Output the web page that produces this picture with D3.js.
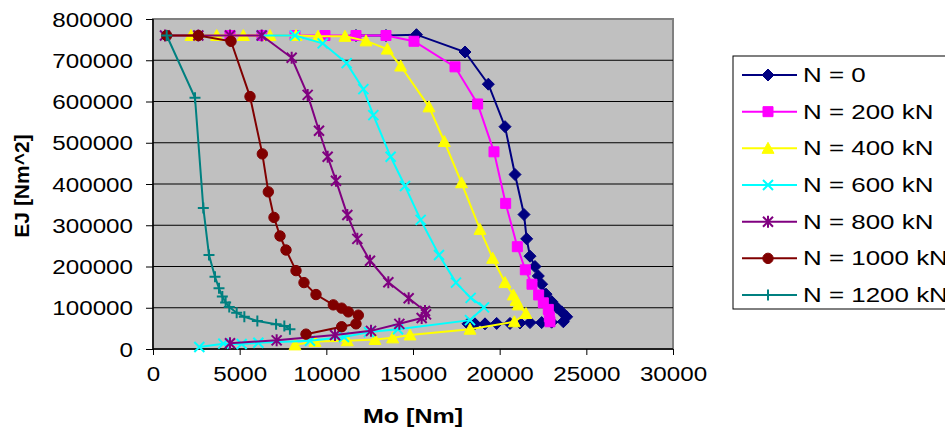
<!DOCTYPE html>
<html>
<head>
<meta charset="utf-8">
<script src="https://cdn.jsdelivr.net/npm/d3@7"></script>
<style>
  body { margin: 0; background: #fff; }
  text { font-family: Arial, "Liberation Sans", sans-serif; }
</style>
</head>
<body>
<svg id="chart" width="945" height="437"></svg>
<script>
// series values: [Mo (Nm), EJ (Nm^2)]
const n0 = [[11711,760000],[13442,760000],[15200,762000],[18000,720000],[19346,642000],[20308,539000],
    [20885,423000],[21404,326000],[21558,267000],[21750,225000],[22038,200000],[22230,177000],[22423,157000],
    [22673,133000],[23000,115000],[23288,101000],[23577,90000],[23865,78000],[23673,66000],[23000,65000],
    [22423,64000],[21750,64000],[21173,63000],[20596,62000],[19827,62000],[19154,61000],[18577,61000],[18173,61000]]
const n200 = [[4442,760000],[6288,760000],[8192,760000],[9923,760000],[11711,760000],[13442,760000],
    [15057,746000],[17423,684000],[18730,594000],[19673,478000],[20346,353000],[21019,248000],[21480,192000],
    [21865,157000],[22250,131000],[22519,112000],[22807,96000],[22865,78000],[22903,66000]]
const n400 = [[2192,760000],[3675,760000],[5210,760000],[6750,760000],[8250,760000],[9519,758000],
    [11077,758000],[12288,747000],[13517,727000],[14290,686000],[15923,587000],[16807,503000],[17800,403000],
    [18865,290000],[19596,220000],[20308,161000],[20788,131000],[20950,118000],[21077,107000],[21519,86000],
    [20846,66000],[18288,48000],[14827,34000],[13827,27000],[12808,23000],[11211,20000],[9346,18000],[8192,10000]]
const n600 = [[6270,760000],[8192,760000],[9790,741000],[11173,693000],[12135,630000],[12711,567000],
    [13711,466000],[14538,395000],[15442,313000],[16500,228000],[17480,161000],[18327,124000],[19096,101000],
    [18288,70000],[14135,48000],[12461,41000],[11019,29000],[9057,20000],[6077,15000],[5115,12000],
    [4057,13000],[2673,5000]]
const n800 = [[692,760000],[2615,760000],[4442,760000],[6270,760000],[8000,706000],[8923,616000],
    [9577,529000],[10076,466000],[10557,408000],[11211,325000],[11788,267000],[12519,214000],[13577,162000],
    [14750,123000],[15692,92000],[15750,84000],[15500,75000],[14211,61000],[12577,44000],[10500,34000],
    [7134,21000],[4442,14000]]
const n1000 = [[790,760000],[2615,760000],[4500,746000],[5596,612000],[6307,473000],[6653,381000],
    [6980,319000],[7327,274000],[7673,240000],[8250,190000],[8711,161000],[9404,132000],[10403,107000],
    [10884,99000],[11268,90000],[11845,82000],[11711,61000],[10884,54000],[8827,36000]]
const n1200 = [[790,760000],[2423,609000],[2903,342000],[3230,228000],[3577,175000],[3808,147000],
    [4000,127000],[4190,113000],[4400,102000],[4827,88000],[5270,78000],[6020,68000],[7100,60000],
    [7577,56000],[7900,48000]]

const seriesNames = ['N = 0', 'N = 200 kN', 'N = 400 kN', 'N = 600 kN', 'N = 800 kN', 'N = 1000 kN', 'N = 1200 kN']
const seriesValues = [n0, n200, n400, n600, n800, n1000, n1200]
const xTicks = [0, 5000, 10000, 15000, 20000, 25000, 30000]
const yTicks = [0, 100000, 200000, 300000, 400000, 500000, 600000, 700000, 800000]

const colors = ['#000080', '#ff00ff', '#ffff00', '#00ffff', '#800080', '#800000', '#008080']
const shapes = ['diamond', 'square', 'triangle', 'x', 'star', 'circle', 'plus']

const plotLeft = 153, plotRight = 673, plotTop = 19, plotBottom = 349

const svg = d3.select('#chart')

const x = d3.scaleLinear().domain([0, 30000]).range([plotLeft, plotRight])
const y = d3.scaleLinear().domain([0, 800000]).range([plotBottom, plotTop])

// plot area
svg.append('rect')
    .attr('x', plotLeft).attr('y', plotTop)
    .attr('width', plotRight - plotLeft).attr('height', plotBottom - plotTop)
    .attr('fill', '#c0c0c0')
    .attr('stroke', '#808080')
    .attr('stroke-width', 2)

// gridlines
svg.append('g')
    .selectAll('line')
    .data(yTicks.filter(d => d > 0 && d < 800000))
    .enter()
    .append('line')
    .attr('x1', plotLeft).attr('x2', plotRight)
    .attr('y1', d => y(d)).attr('y2', d => y(d))
    .attr('stroke', '#000')
    .attr('stroke-width', 1.2)

// axes
const yAxis = svg.append('g')
    .attr('transform', `translate(${plotLeft},0)`)
    .call(d3.axisLeft(y).tickValues(yTicks).tickSize(7).tickSizeOuter(0).tickFormat(d3.format('d')))
yAxis.select('.domain').remove()
yAxis.selectAll('line').attr('stroke', '#000')
yAxis.selectAll('text')
    .attr('x', -16.5)
    .attr('dy', '0.35em')
    .attr('transform', 'scale(1.21,1)')
    .style('font-size', '20px')
    .attr('fill', '#000')

const xAxis = svg.append('g')
    .attr('transform', `translate(0,${plotBottom})`)
    .call(d3.axisBottom(x).tickValues(xTicks).tickSize(6).tickSizeOuter(0).tickPadding(12).tickFormat(d3.format('d')))
xAxis.select('.domain').remove()
xAxis.selectAll('line').attr('stroke', '#000')
xAxis.selectAll('text')
    .attr('transform', 'scale(1.21,1)')
    .style('font-size', '20px')
    .attr('fill', '#000')

svg.append('line')
    .attr('x1', plotLeft).attr('x2', plotLeft).attr('y1', plotTop).attr('y2', plotBottom)
    .attr('stroke', '#000').attr('stroke-width', 1.5)
svg.append('line')
    .attr('x1', plotLeft).attr('x2', plotRight).attr('y1', plotBottom).attr('y2', plotBottom)
    .attr('stroke', '#000').attr('stroke-width', 1.5)

// axis titles
svg.append('text')
    .attr('transform', 'translate(413,423) scale(1.25,1)')
    .attr('text-anchor', 'middle')
    .style('font-size', '20px')
    .style('font-weight', 'bold')
    .text('Mo [Nm]')

svg.append('text')
    .attr('transform', 'translate(29,186) rotate(-90)')
    .attr('text-anchor', 'middle')
    .style('font-size', '21px')
    .style('font-weight', 'bold')
    .text('EJ [Nm^2]')

// marker shapes
function markerPath(shape) {
    if (shape === 'diamond') return 'M0,-6L6,0L0,6L-6,0Z'
    if (shape === 'square') return 'M-5,-5h10v10h-10Z'
    if (shape === 'triangle') return 'M0,-6L6,5L-6,5Z'
    if (shape === 'x') return 'M-5,-5L5,5M-5,5L5,-5'
    if (shape === 'star') return 'M-5,-5L5,5M-5,5L5,-5M0,-6V6'
    if (shape === 'plus') return 'M-5.5,0H5.5M0,-5.5V5.5'
    return d3.symbol(d3.symbolCircle, 85)()
}
const filled = s => ['diamond', 'square', 'triangle', 'circle'].includes(s)

function drawMarker(g, shape, color) {
    g.append('path')
        .attr('d', markerPath(shape))
        .attr('fill', filled(shape) ? color : 'none')
        .attr('stroke', color)
        .attr('stroke-width', filled(shape) ? 1 : 2)
}

const line = d3.line()
    .x(d => x(d[0]))
    .y(d => y(d[1]))

seriesValues.forEach((values, i) => {
    const g = svg.append('g')
    g.append('path')
        .datum(values)
        .attr('d', line)
        .attr('fill', 'none')
        .attr('stroke', colors[i])
        .attr('stroke-width', 2)
    g.selectAll('g.pt')
        .data(values)
        .enter()
        .append('g')
        .attr('class', 'pt')
        .attr('transform', d => `translate(${x(d[0])},${y(d[1])})`)
        .each(function() { drawMarker(d3.select(this), shapes[i], colors[i]) })
})

// legend
const legend = svg.append('g')
legend.append('rect')
    .attr('x', 733).attr('y', 56)
    .attr('width', 300).attr('height', 253)
    .attr('fill', '#fff')
    .attr('stroke', '#000')
    .attr('stroke-width', 1)

seriesNames.forEach((name, i) => {
    const ly = 75 + i * 36.67
    legend.append('line')
        .attr('x1', 742).attr('x2', 797)
        .attr('y1', ly).attr('y2', ly)
        .attr('stroke', colors[i])
        .attr('stroke-width', 2)
    const m = legend.append('g').attr('transform', `translate(768,${ly})`)
    drawMarker(m, shapes[i], colors[i])
    legend.append('text')
        .attr('transform', `translate(803,${ly + 7}) scale(1.33,1)`)
        .style('font-size', '19.5px')
        .text(name)
})
</script>
</body>
</html>
